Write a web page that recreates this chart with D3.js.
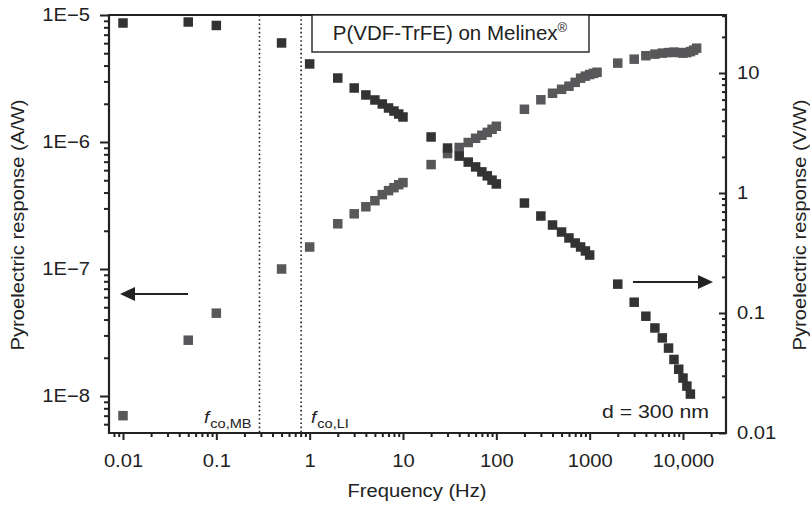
<!DOCTYPE html>
<html>
<head>
<meta charset="utf-8">
<script src="https://cdn.jsdelivr.net/npm/d3@7/dist/d3.min.js"></script>
<style>
  html, body { margin: 0; padding: 0; background: #fff; }
  svg { display: block; }
  text { font-family: "Liberation Sans", Arial, Helvetica, sans-serif; fill: #222; }
</style>
</head>
<body>
<svg id="chart" width="810" height="507"></svg>
<script>
// ---------- data ----------
// Voltage responsivity (V/W), right axis (dark squares)
const voltFreq = [0.01, 0.05, 0.1, 0.5, 1, 2, 3, 4, 5, 6, 7, 8, 9, 10, 20, 30, 40, 50, 60, 70, 80, 90, 100,
  200, 300, 400, 500, 600, 700, 800, 900, 1000, 2000, 3000, 4000, 5000, 6000, 7000, 8000, 9000, 10000, 11000, 12000];
const voltValues = [26.1, 26.6, 24.9, 17.8, 11.9, 9.08, 7.5, 6.56, 5.96, 5.52, 5.11, 4.82, 4.55, 4.30, 2.93, 2.37, 2.03, 1.81, 1.65, 1.50, 1.39, 1.28, 1.19,
  0.825, 0.643, 0.541, 0.473, 0.422, 0.383, 0.355, 0.329, 0.304, 0.174, 0.123, 0.094, 0.075, 0.062, 0.051, 0.041, 0.034, 0.0287, 0.0246, 0.0211];

// Current responsivity (A/W), left axis (grey squares)
const currFreq = [0.01, 0.05, 0.1, 0.5, 1, 2, 3, 4, 5, 6, 7, 8, 9, 10, 20, 30, 40, 50, 60, 70, 80, 90, 100,
  200, 300, 400, 500, 600, 700, 800, 900, 1000, 1100, 1200, 2000, 3000, 4000, 5000, 6000, 7000, 8000, 9000, 10000, 11000, 12000, 13000, 14000];
const currValues = [7.0e-9, 2.75e-8, 4.49e-8, 1.0e-7, 1.49e-7, 2.27e-7, 2.72e-7, 3.09e-7, 3.45e-7, 3.85e-7, 4.14e-7, 4.37e-7, 4.61e-7, 4.79e-7,
  6.64e-7, 8.11e-7, 9.05e-7, 9.91e-7, 1.07e-6, 1.13e-6, 1.19e-6, 1.26e-6, 1.33e-6,
  1.81e-6, 2.15e-6, 2.42e-6, 2.60e-6, 2.75e-6, 2.95e-6, 3.18e-6, 3.30e-6, 3.40e-6, 3.47e-6, 3.54e-6,
  4.18e-6, 4.49e-6, 4.78e-6, 4.92e-6, 5.01e-6, 5.06e-6, 5.10e-6, 5.06e-6, 5.01e-6, 5.06e-6, 5.15e-6, 5.29e-6, 5.48e-6];

const xTickValues = [0.01, 0.1, 1, 10, 100, 1000, 10000];
const xTickLabels = ["0.01", "0.1", "1", "10", "100", "1000", "10,000"];
const yLeftTickValues = [1e-5, 1e-6, 1e-7, 1e-8];
const yLeftTickLabels = ["1E\u22125", "1E\u22126", "1E\u22127", "1E\u22128"];
const yRightTickValues = [10, 1, 0.1, 0.01];
const yRightTickLabels = ["10", "1", "0.1", "0.01"];
const cutoffFreq = [0.29, 0.81];
const cutoffLabels = [["f", "co,MB"], ["f", "co,LI"]];
const titleText = "P(VDF-TrFE) on Melinex";
const thicknessText = "d = 300 nm";

// ---------- layout ----------
const L = 109, R = 726, T = 15, B = 433;
const svg = d3.select("#chart");

const x = d3.scaleLog().domain([0.01, 10000]).range([123, 683]);
const yL = d3.scaleLog().domain([1e-8, 1e-5]).range([396, 15]);
const yR = d3.scaleLog().domain([0.01, 10]).range([433, 73]);

function minors(lo, hi, scale, a, b) {
  const out = [];
  for (let e = lo; e <= hi; e++) {
    for (let m = 2; m <= 9; m++) {
      const v = m * Math.pow(10, e);
      const p = scale(v);
      if (p > a + 0.5 && p < b - 0.5) out.push(v);
    }
  }
  return out;
}

const axisColor = "#222";
const FS = "18px";

// ---------- dotted cutoff lines ----------
svg.selectAll("line.cut").data(cutoffFreq).enter().append("line")
  .attr("x1", d => x(d)).attr("x2", d => x(d))
  .attr("y1", T).attr("y2", B)
  .attr("stroke", "#222").attr("stroke-width", 1.6)
  .attr("stroke-dasharray", "1.6,2.6");

// cutoff labels
const cutLab = svg.selectAll("text.cut").data(cutoffLabels).enter().append("text")
  .attr("class", "stretch")
  .attr("x", (d, i) => i === 0 ? 204 : 311)
  .attr("y", 423)
  .style("font-size", "17px");
cutLab.append("tspan").style("font-style", "italic").text(d => d[0]);
cutLab.append("tspan").attr("dy", 5).attr("dx", 1).style("font-size", "13px").text(d => d[1]);

// ---------- markers ----------
const S = 9.5;
svg.append("g").selectAll("rect").data(currFreq.map((f, i) => [f, currValues[i]])).enter().append("rect")
  .attr("x", d => x(d[0]) - S / 2).attr("y", d => yL(d[1]) - S / 2)
  .attr("width", S).attr("height", S).attr("fill", "#58585a");
svg.append("g").selectAll("rect").data(voltFreq.map((f, i) => [f, voltValues[i]])).enter().append("rect")
  .attr("x", d => x(d[0]) - S / 2).attr("y", d => yR(d[1]) - S / 2)
  .attr("width", S).attr("height", S).attr("fill", "#333333");

// ---------- axes ----------
// bottom
const gx = svg.append("g").attr("transform", `translate(0,${B})`);
gx.call(d3.axisBottom(x).tickValues(xTickValues).tickFormat((d, i) => xTickLabels[i]).tickSize(7).tickPadding(14).tickSizeOuter(0));
gx.select(".domain").remove();
gx.selectAll(".tick line").attr("stroke", axisColor).attr("stroke-width", 2);
gx.selectAll(".tick text").style("font-size", FS).attr("fill", "#222").attr("class", "stretch");
const gxm = svg.append("g").attr("transform", `translate(0,${B})`);
gxm.call(d3.axisBottom(x).tickValues(minors(-3, 4, x, L, R)).tickFormat("").tickSize(4).tickSizeOuter(0));
gxm.select(".domain").remove();
gxm.selectAll(".tick line").attr("stroke", axisColor).attr("stroke-width", 2);

// left
const gy = svg.append("g").attr("transform", `translate(${L},0)`);
gy.call(d3.axisLeft(yL).tickValues(yLeftTickValues).tickFormat((d, i) => yLeftTickLabels[i]).tickSize(9).tickPadding(10).tickSizeOuter(0));
gy.select(".domain").remove();
gy.selectAll(".tick line").attr("stroke", axisColor).attr("stroke-width", 2);
gy.selectAll(".tick text").style("font-size", FS).attr("fill", "#222").attr("class", "stretch");
const gym = svg.append("g").attr("transform", `translate(${L},0)`);
gym.call(d3.axisLeft(yL).tickValues(minors(-9, -6, yL, T, B)).tickFormat("").tickSize(5).tickSizeOuter(0));
gym.select(".domain").remove();
gym.selectAll(".tick line").attr("stroke", axisColor).attr("stroke-width", 2);

// right (ticks pointing inward, labels outside)
const gr = svg.append("g").attr("transform", `translate(${R},0)`);
gr.call(d3.axisRight(yR).tickValues(yRightTickValues).tickFormat((d, i) => yRightTickLabels[i]).tickSize(-7).tickPadding(11).tickSizeOuter(0));
gr.select(".domain").remove();
gr.selectAll(".tick line").attr("stroke", axisColor).attr("stroke-width", 2);
gr.selectAll(".tick text").style("font-size", FS).attr("fill", "#222").attr("x", 11).attr("class", "stretch");
const grm = svg.append("g").attr("transform", `translate(${R},0)`);
grm.call(d3.axisRight(yR).tickValues(minors(-2, 1, yR, T, B)).tickFormat("").tickSize(-4).tickSizeOuter(0));
grm.select(".domain").remove();
grm.selectAll(".tick line").attr("stroke", axisColor).attr("stroke-width", 2);

// frame
svg.append("path")
  .attr("d", `M${L},${T}V${B}H${R}V${T}Z`)
  .attr("fill", "none").attr("stroke", axisColor).attr("stroke-width", 2.2);

// ---------- title box ----------
svg.append("rect").attr("x", 312).attr("y", T).attr("width", 277).attr("height", 37)
  .attr("fill", "#fff").attr("stroke", "#222").attr("stroke-width", 1.4);
const tt = svg.append("text").attr("x", 450).attr("y", 40).attr("text-anchor", "middle").style("font-size", "20.5px");
tt.append("tspan").text(titleText);
tt.append("tspan").attr("dy", -8).style("font-size", "13px").text("\u00AE");

// thickness label
svg.append("text").attr("x", 709).attr("y", 418).attr("text-anchor", "end").style("font-size", "19px")
  .attr("class", "stretch").text(thicknessText);

// ---------- arrows ----------
function arrow(x1, x2, yy) {
  const dir = Math.sign(x2 - x1);
  svg.append("line").attr("x1", x1).attr("x2", x2 - dir * 10).attr("y1", yy).attr("y2", yy)
    .attr("stroke", "#222").attr("stroke-width", 1.8);
  svg.append("path")
    .attr("d", `M${x2},${yy}L${x2 - dir * 15},${yy - 7}L${x2 - dir * 15},${yy + 7}Z`)
    .attr("fill", "#222");
}
arrow(188, 120, 294);
arrow(633, 713, 282);

// ---------- axis titles ----------
svg.append("text").attr("class", "stretch").attr("x", 417).attr("y", 497).attr("text-anchor", "middle").style("font-size", FS).text("Frequency (Hz)");
svg.append("text").attr("class", "stretch").attr("transform", `translate(24,225) rotate(-90)`).attr("text-anchor", "middle").style("font-size", FS)
  .text("Pyroelectric response (A/W)");
svg.append("text").attr("class", "stretch").attr("transform", `translate(806,225) rotate(-90)`).attr("text-anchor", "middle").style("font-size", FS)
  .text("Pyroelectric response (V/W)");

// ---------- widen glyphs to match the reference's broader lettering ----------
const STRETCH = 1.12;
svg.selectAll("text.stretch").each(function () {
  const el = d3.select(this);
  const spans = el.selectAll("tspan");
  if (spans.empty()) {
    const len = this.getComputedTextLength();
    el.attr("textLength", len * STRETCH).attr("lengthAdjust", "spacingAndGlyphs");
  } else {
    spans.each(function () {
      const len = this.getComputedTextLength();
      d3.select(this).attr("textLength", len * STRETCH).attr("lengthAdjust", "spacingAndGlyphs");
    });
  }
});
</script>
</body>
</html>
